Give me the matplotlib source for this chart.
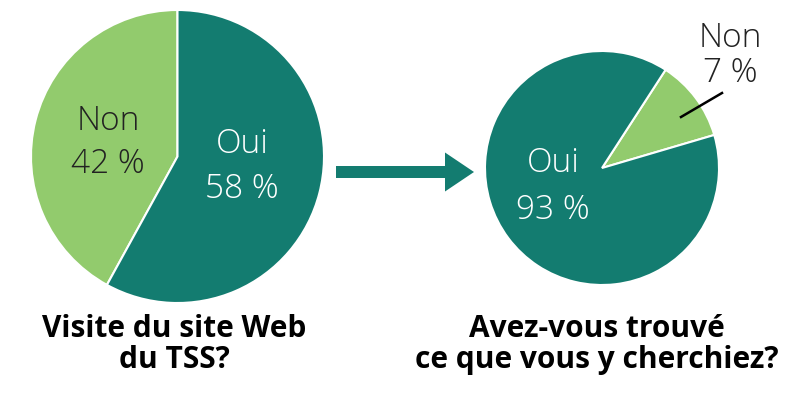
import matplotlib
matplotlib.use("Agg")
import matplotlib.pyplot as plt
from matplotlib.patches import FancyArrow

# data
left_labels = ["Non", "Oui"]
left_values = [42, 58]
left_title = ["Visite du site Web", "du TSS?"]

right_labels = ["Non", "Oui"]
right_pct = [7, 93]            # printed values
right_drawn = [11.3, 88.7]     # wedge sizes as drawn in the picture
right_title = ["Avez-vous trouvé", "ce que vous y cherchiez?"]

teal = "#137c70"
green = "#92cb6d"
dark = "#222222"

plt.rcParams['font.family'] = ['Lato', 'DejaVu Sans']

fig = plt.figure(figsize=(8, 4), dpi=100)
ax = fig.add_axes([0, 0, 1, 1])

# pixel coordinates, y going up
H = 400

wp = dict(edgecolor="white", linewidth=1.5)
ax.pie(left_values, colors=[green, teal], startangle=90, counterclock=True,
       center=(177.5, H - 156.5), radius=146.5, wedgeprops=wp, frame=True)
ax.pie(right_drawn, colors=[green, teal], startangle=16.4, counterclock=True,
       center=(602, H - 168), radius=117, wedgeprops=wp, frame=True)

lab = dict(ha="center", va="baseline", fontsize=24, fontweight="light",
           family=["Open Sans", "DejaVu Sans"])
# left pie labels
ax.text(108, H - 130, left_labels[0], color=dark, **lab)
ax.text(108, H - 173, "%d %%" % left_values[0], color=dark, **lab)
ax.text(242, H - 153, left_labels[1], color="white", **lab)
ax.text(242, H - 198, "%d %%" % left_values[1], color="white", **lab)
# right pie labels
ax.text(553, H - 172, right_labels[1], color="white", **lab)
ax.text(553, H - 219, "%d %%" % right_pct[1], color="white", **lab)
ax.text(730, H - 47, right_labels[0], color=dark, **lab)
ax.text(730, H - 82, "%d %%" % right_pct[0], color=dark, **lab)
ax.plot([681, 722], [H - 117, H - 93], color="black", lw=1.8)

# arrow between
ax.add_patch(FancyArrow(336, H - 172, 138, 0, width=12, head_width=39,
                        head_length=29, length_includes_head=True,
                        color=teal, lw=0))

tt = dict(ha="center", va="baseline", fontsize=21.5, fontweight="bold",
          color="black", family=["Open Sans", "DejaVu Sans"])
for i, line in enumerate(left_title):
    ax.text(174, H - 337 - 31 * i, line, **tt)
for i, line in enumerate(right_title):
    ax.text(597, H - 337 - 31 * i, line, **tt)

ax.set_xlim(0, 800)
ax.set_ylim(0, H)
ax.set_aspect("equal")
ax.axis("off")

fig.savefig("out.png", dpi=100, facecolor="white")
